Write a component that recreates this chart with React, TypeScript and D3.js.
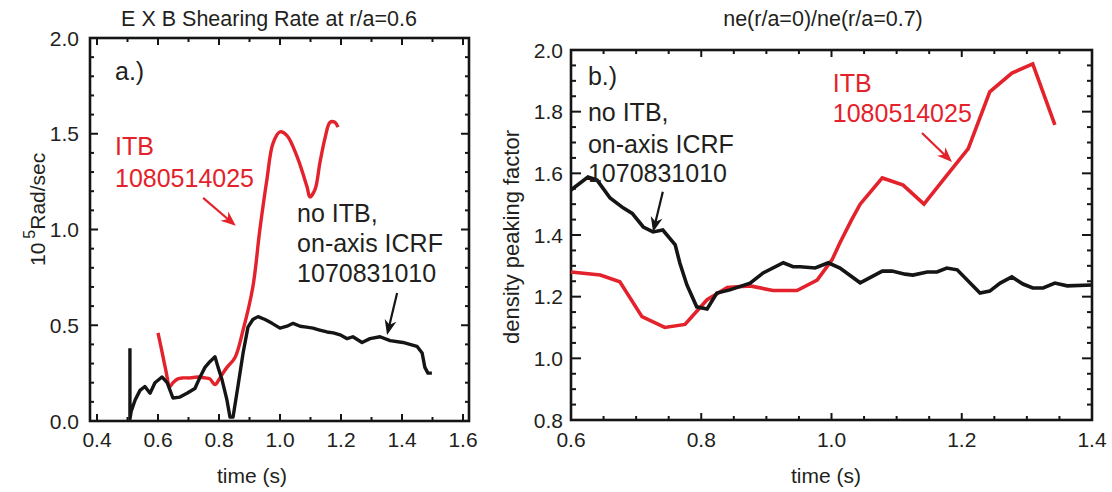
import React from "react";
import * as d3 from "d3";

// ---------- data ----------
// Panel a: E x B shearing rate (10^5 rad/s) vs time (s)
const shearItbTime = [0.600, 0.612, 0.625, 0.639, 0.649, 0.665, 0.682, 0.705, 0.730, 0.755, 0.770, 0.787, 0.803, 0.826, 0.852, 0.879, 0.911, 0.934, 0.957, 0.977, 1.000, 1.023, 1.056, 1.089, 1.098, 1.115, 1.131, 1.148, 1.164, 1.180, 1.190];
const shearItbValue = [0.46, 0.37, 0.27, 0.18, 0.20, 0.22, 0.225, 0.225, 0.23, 0.225, 0.22, 0.19, 0.225, 0.28, 0.33, 0.475, 0.70, 1.00, 1.26, 1.45, 1.51, 1.49, 1.38, 1.22, 1.17, 1.21, 1.35, 1.48, 1.56, 1.56, 1.535];

const shearRefTime = [0.508, 0.508, 0.512, 0.525, 0.541, 0.557, 0.574, 0.590, 0.613, 0.630, 0.649, 0.672, 0.695, 0.721, 0.738, 0.754, 0.770, 0.787, 0.797, 0.810, 0.826, 0.836, 0.846, 0.862, 0.879, 0.895, 0.911, 0.928, 0.951, 0.974, 1.000, 1.023, 1.043, 1.066, 1.087, 1.108, 1.130, 1.154, 1.175, 1.197, 1.220, 1.239, 1.269, 1.295, 1.328, 1.361, 1.403, 1.426, 1.449, 1.466, 1.475, 1.485, 1.498];
const shearRefValue = [0.38, 0.01, 0.05, 0.11, 0.16, 0.18, 0.145, 0.20, 0.23, 0.20, 0.12, 0.125, 0.145, 0.17, 0.23, 0.28, 0.31, 0.335, 0.28, 0.215, 0.11, 0.02, 0.02, 0.18, 0.355, 0.49, 0.53, 0.545, 0.53, 0.51, 0.485, 0.495, 0.51, 0.495, 0.49, 0.485, 0.475, 0.465, 0.46, 0.45, 0.43, 0.44, 0.41, 0.43, 0.44, 0.42, 0.41, 0.40, 0.39, 0.355, 0.28, 0.25, 0.25];

// Panel b: density peaking factor vs time (s)
const peakItbTime = [0.600, 0.645, 0.675, 0.709, 0.744, 0.775, 0.809, 0.840, 0.875, 0.910, 0.947, 0.978, 1.001, 1.013, 1.031, 1.044, 1.078, 1.110, 1.142, 1.174, 1.210, 1.243, 1.277, 1.309, 1.343];
const peakItbValue = [1.28, 1.27, 1.248, 1.135, 1.10, 1.11, 1.19, 1.23, 1.235, 1.22, 1.22, 1.254, 1.32, 1.375, 1.45, 1.50, 1.585, 1.562, 1.50, 1.585, 1.68, 1.864, 1.925, 1.955, 1.757];

const peakRefTime = [0.600, 0.626, 0.640, 0.660, 0.680, 0.694, 0.711, 0.726, 0.741, 0.760, 0.767, 0.778, 0.793, 0.809, 0.824, 0.844, 0.875, 0.895, 0.926, 0.941, 0.952, 0.975, 0.995, 1.013, 1.044, 1.078, 1.093, 1.113, 1.125, 1.147, 1.162, 1.177, 1.193, 1.228, 1.243, 1.259, 1.277, 1.294, 1.309, 1.325, 1.343, 1.362, 1.400];
const peakRefValue = [1.546, 1.588, 1.578, 1.52, 1.488, 1.47, 1.426, 1.41, 1.416, 1.368, 1.31, 1.238, 1.167, 1.16, 1.212, 1.222, 1.244, 1.277, 1.31, 1.297, 1.297, 1.293, 1.31, 1.293, 1.245, 1.283, 1.283, 1.273, 1.27, 1.28, 1.28, 1.293, 1.287, 1.212, 1.218, 1.244, 1.264, 1.241, 1.228, 1.228, 1.244, 1.235, 1.238];

// tick labels
const leftXLabels = [0.4, 0.6, 0.8, 1.0, 1.2, 1.4, 1.6];
const leftYLabels = [0.0, 0.5, 1.0, 1.5, 2.0];
const rightXLabels = [0.6, 0.8, 1.0, 1.2, 1.4];
const rightYLabels = [0.8, 1.0, 1.2, 1.4, 1.6, 1.8, 2.0];

// titles / labels
const leftTitle = "E X B Shearing Rate at r/a=0.6";
const rightTitle = "ne(r/a=0)/ne(r/a=0.7)";
const xTitle = "time (s)";
const rightYTitle = "density peaking factor";

const RED = "#e3222b";
const BLACK = "#151515";
const TEXT = "#231f20";
const FONT = "'Liberation Sans', Arial, Helvetica, sans-serif";

const zip = (t: number[], v: number[]) => t.map((x, i) => [x, v[i]] as [number, number]);

function range(a: number, b: number, step: number) {
  const out: number[] = [];
  const n = Math.round((b - a) / step);
  for (let i = 0; i <= n; i++) out.push(+(a + i * step).toFixed(4));
  return out;
}

function Arrow({ x1, y1, x2, y2, color, len = 15, half = 6 }: any) {
  const ang = Math.atan2(y2 - y1, x2 - x1);
  const bx = x2 - len * Math.cos(ang);
  const by = y2 - len * Math.sin(ang);
  const px = -Math.sin(ang), py = Math.cos(ang);
  const pts = `${x2},${y2} ${bx + half * px},${by + half * py} ${x2 - len * 0.7 * Math.cos(ang)},${y2 - len * 0.7 * Math.sin(ang)} ${bx - half * px},${by - half * py}`;
  return (
    <g>
      <line x1={x1} y1={y1} x2={x2 - len * 0.6 * Math.cos(ang)} y2={y2 - len * 0.6 * Math.sin(ang)} stroke={color} strokeWidth={2.2} />
      <polygon points={pts} fill={color} />
    </g>
  );
}

function Frame({ x0, x1, y0, y1, xs, ys, xTicks, yTicks, xMajor, yMajor, xLen, yLen }: any) {
  const els: any[] = [];
  xTicks.forEach((t: number, i: number) => {
    const x = xs(t);
    const L = xMajor(t) ? xLen[0] : xLen[1];
    els.push(<line key={"xb" + i} x1={x} x2={x} y1={y1} y2={y1 - L} />);
    els.push(<line key={"xt" + i} x1={x} x2={x} y1={y0} y2={y0 + L} />);
  });
  yTicks.forEach((v: number, i: number) => {
    const y = ys(v);
    const L = yMajor(v) ? yLen[0] : yLen[1];
    els.push(<line key={"yl" + i} x1={x0} x2={x0 + L} y1={y} y2={y} />);
    els.push(<line key={"yr" + i} x1={x1} x2={x1 - L} y1={y} y2={y} />);
  });
  return (
    <g stroke={BLACK} strokeWidth={2}>
      {els}
      <rect x={x0} y={y0} width={x1 - x0} height={y1 - y0} fill="none" strokeWidth={2.6} />
    </g>
  );
}

export default function App() {
  // ---- left panel ----
  const L = { x0: 90, x1: 469, y0: 38, y1: 421 };
  const lx = d3.scaleLinear().domain([0.4, 1.6]).range([97, 463]);
  const ly = d3.scaleLinear().domain([0, 2]).range([421, 38]);
  const lsmooth = d3.line<[number, number]>().x(d => lx(d[0])).y(d => ly(d[1])).curve(d3.curveCatmullRom.alpha(0.5));
  const lline = d3.line<[number, number]>().x(d => lx(d[0])).y(d => ly(d[1])).curve(d3.curveLinear);

  // ---- right panel ----
  const R = { x0: 571, x1: 1092, y0: 50, y1: 420 };
  const rx = d3.scaleLinear().domain([0.6, 1.4]).range([571, 1092]);
  const ry = d3.scaleLinear().domain([0.8, 2.0]).range([420, 50]);
  const rline = d3.line<[number, number]>().x(d => rx(d[0])).y(d => ry(d[1]));

  const isMult = (v: number, m: number) => Math.abs(v / m - Math.round(v / m)) < 1e-6;

  const annSize = 25;

  return (
    <svg width={1112} height={492} style={{ position: "absolute", left: 0, top: 0, background: "#fff" }} fontFamily={FONT}>
      <rect width={1112} height={492} fill="#fff" />
      {/* ===== Left panel ===== */}
      <text x={269} y={26} fontSize={21.5} textAnchor="middle" fill={TEXT}>{leftTitle}</text>
      <Frame {...L} xs={lx} ys={ly}
        xTicks={range(0.4, 1.6, 0.1)} yTicks={range(0, 2, 0.1)}
        xMajor={(t: number) => isMult(t, 0.2)} yMajor={(v: number) => isMult(v, 0.5)}
        xLen={[7, 4]} yLen={[8, 4]} />
      {leftXLabels.map(t => (
        <text key={"lxl" + t} x={lx(t)} y={447} fontSize={21} textAnchor="middle" fill={TEXT}>{t.toFixed(1)}</text>
      ))}
      {leftYLabels.map(v => (
        <text key={"lyl" + v} x={79} y={ly(v)} dy="0.36em" fontSize={21} textAnchor="end" fill={TEXT}>{v.toFixed(1)}</text>
      ))}
      <text x={252} y={483} fontSize={21} textAnchor="middle" fill={TEXT}>{xTitle}</text>
      <text transform="translate(45,266) rotate(-90)" fontSize={21} fill={TEXT}>
        10<tspan dx={4} dy={-10} fontSize={16}>5</tspan><tspan dy={10}>Rad/sec</tspan>
      </text>

      <path d={lsmooth(zip(shearItbTime, shearItbValue)) || ""} fill="none" stroke={RED} strokeWidth={3.4} strokeLinejoin="round" />
      <path d={lline(zip(shearRefTime, shearRefValue)) || ""} fill="none" stroke={BLACK} strokeWidth={3.4} strokeLinejoin="round" />

      <text x={lx(0.459)} y={ly(1.78)} fontSize={annSize} fill={TEXT}>a.)</text>
      <text x={lx(0.459)} y={ly(1.389)} fontSize={annSize} fill={RED}>ITB</text>
      <text x={lx(0.459)} y={ly(1.222)} fontSize={annSize} fill={RED}>1080514025</text>
      <Arrow x1={lx(0.748)} y1={ly(1.165)} x2={lx(0.855)} y2={ly(1.019)} color={RED} />
      <text x={lx(1.056)} y={ly(1.039)} fontSize={annSize} fill={TEXT}>no ITB,</text>
      <text x={lx(1.056)} y={ly(0.883)} fontSize={annSize} fill={TEXT}>on-axis ICRF</text>
      <text x={lx(1.056)} y={ly(0.726)} fontSize={annSize} fill={TEXT}>1070831010</text>
      <Arrow x1={lx(1.384)} y1={ly(0.668)} x2={lx(1.351)} y2={ly(0.449)} color={BLACK} />

      {/* ===== Right panel ===== */}
      <text x={823} y={26} fontSize={21.5} textAnchor="middle" fill={TEXT}>{rightTitle}</text>
      <Frame {...R} xs={rx} ys={ry}
        xTicks={range(0.6, 1.4, 0.05)} yTicks={range(0.8, 2.0, 0.05)}
        xMajor={(t: number) => isMult(t, 0.2)} yMajor={(v: number) => isMult(v, 0.2)}
        xLen={[7, 4]} yLen={[10, 5]} />
      {rightXLabels.map(t => (
        <text key={"rxl" + t} x={rx(t)} y={447} fontSize={21} textAnchor="middle" fill={TEXT}>{t.toFixed(1)}</text>
      ))}
      {rightYLabels.map(v => (
        <text key={"ryl" + v} x={563} y={ry(v)} dy="0.36em" fontSize={21} textAnchor="end" fill={TEXT}>{v.toFixed(1)}</text>
      ))}
      <text x={826} y={483} fontSize={21} textAnchor="middle" fill={TEXT}>{xTitle}</text>
      <text transform="translate(519,237) rotate(-90)" fontSize={22} textAnchor="middle" fill={TEXT}>{rightYTitle}</text>

      <path d={rline(zip(peakItbTime, peakItbValue)) || ""} fill="none" stroke={RED} strokeWidth={3.6} strokeLinejoin="miter" />
      <path d={rline(zip(peakRefTime, peakRefValue)) || ""} fill="none" stroke={BLACK} strokeWidth={3.6} strokeLinejoin="miter" />

      <text x={rx(0.626)} y={ry(1.887)} fontSize={annSize} fill={TEXT}>b.)</text>
      <text x={rx(0.626)} y={ry(1.770)} fontSize={annSize} fill={TEXT}>no ITB,</text>
      <text x={rx(0.626)} y={ry(1.666)} fontSize={annSize} fill={TEXT}>on-axis ICRF</text>
      <text x={rx(0.626)} y={ry(1.572)} fontSize={annSize} fill={TEXT}>1070831010</text>
      <Arrow x1={rx(0.741)} y1={ry(1.540)} x2={rx(0.726)} y2={ry(1.410)} color={BLACK} />
      <text x={rx(1.002)} y={ry(1.864)} fontSize={annSize} fill={RED}>ITB</text>
      <text x={rx(1.002)} y={ry(1.767)} fontSize={annSize} fill={RED}>1080514025</text>
      <Arrow x1={rx(1.139)} y1={ry(1.731)} x2={rx(1.185)} y2={ry(1.637)} color={RED} />
    </svg>
  );
}
